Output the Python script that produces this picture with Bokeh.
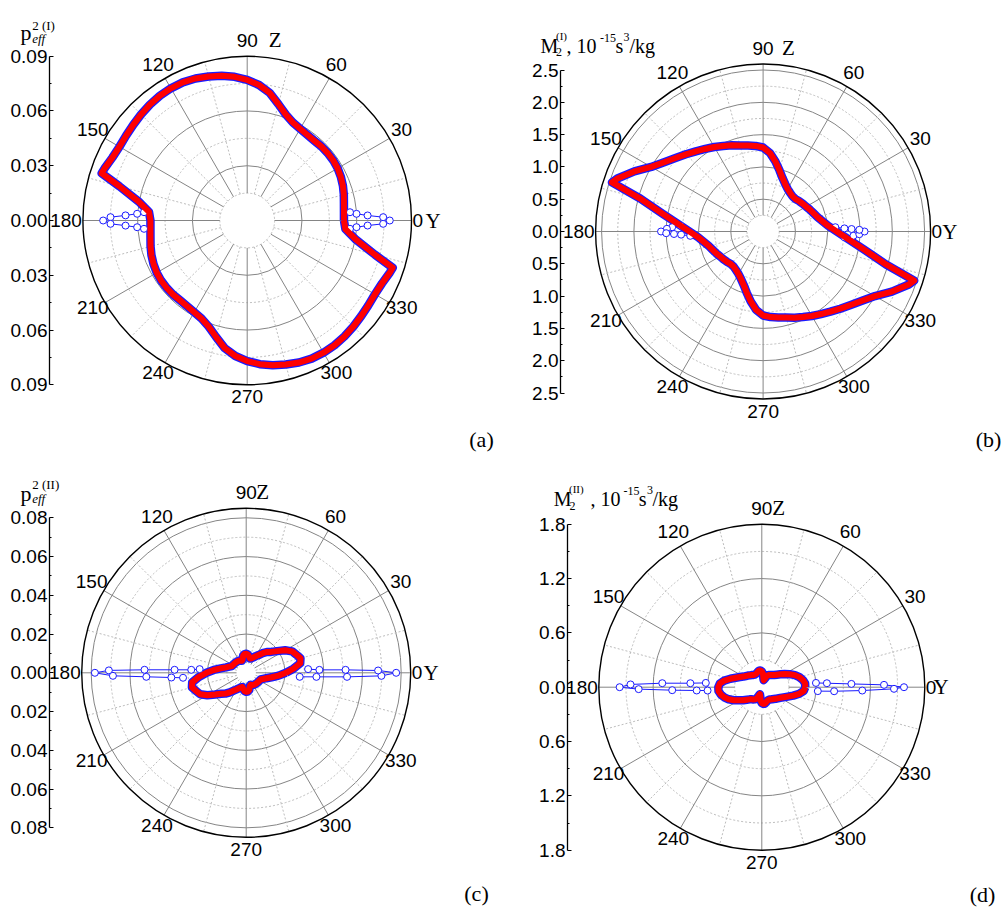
import numpy as np
from bokeh.plotting import figure
from bokeh.layouts import column, row
from bokeh.models import Range1d, LinearAxis, FixedTicker, CustomJSTickFormatter, Label
from bokeh.embed import file_html
from bokeh.resources import INLINE
from bokeh.core.properties import value

# ---------------- data ----------------
ANGLE_TICKS = [0, 30, 60, 90, 120, 150, 180, 210, 240, 270, 300, 330]
ANGLE_LABELS = ["0", "30", "60", "90", "120", "150", "180", "210", "240", "270", "300", "330"]
MINOR_SPOKES = [15, 45, 75, 105, 135, 165, 195, 225, 255, 285, 315, 345]

# (a) p_eff^2 (I)
theta_a = [0, 5, 10, 15, 20, 25, 30, 35, 40, 45, 50, 55, 60, 65, 70, 75, 80, 85, 90, 95, 100,
           105, 110, 115, 120, 125, 130, 135, 140, 145, 150, 155, 160, 162, 165, 170, 175]
red_a = [0.0530, 0.0532, 0.0538, 0.0548, 0.0558, 0.0566, 0.0572, 0.0575, 0.0575, 0.0574, 0.0571,
         0.0573, 0.0580, 0.0592, 0.0618, 0.0660, 0.0710, 0.0745, 0.0770, 0.0790, 0.0805, 0.0817,
         0.0828, 0.0835, 0.0836, 0.0834, 0.0829, 0.0822, 0.0815, 0.0810, 0.0808, 0.0815, 0.0832,
         0.0838, 0.0725, 0.0605, 0.0540]
spk0_t_a = [-4.6, -3.5, -2.4, -1.4, 0, 1.4, 2.4, 3.5, 4.6]
spk0_r_a = [0.0565, 0.0600, 0.0660, 0.0745, 0.0781, 0.0745, 0.0660, 0.0600, 0.0565]
spk180_t_a = [175.4, 176.5, 177.6, 178.6, 180, 181.4, 182.4, 183.5, 184.6]
spk180_r_a = [0.0567, 0.0604, 0.0667, 0.0749, 0.0789, 0.0749, 0.0667, 0.0604, 0.0567]
ticks_a = [-0.09, -0.06, -0.03, 0.0, 0.03, 0.06, 0.09]
minor_a = [-0.075, -0.045, -0.015, 0.015, 0.045, 0.075]

# (b) M2 (I)
theta_b = [0, 5, 10, 15, 20, 25, 30, 35, 40, 45, 50, 55, 60, 65, 70, 75, 80, 85, 90, 95, 100,
           105, 110, 115, 120, 125, 130, 135, 140, 145, 150, 155, 160, 162, 165, 170, 175]
red_b = [1.14, 1.01, 0.93, 0.87, 0.83, 0.80, 0.77, 0.75, 0.73, 0.71, 0.71, 0.73, 0.76, 0.81,
         0.88, 0.98, 1.10, 1.22, 1.30, 1.33, 1.35, 1.38, 1.42, 1.46, 1.51, 1.56, 1.62, 1.69,
         1.77, 1.87, 2.00, 2.20, 2.40, 2.46, 1.97, 1.58, 1.32]
spk0_t_b = [-4, -2.7, -1.6, 0, 1, 1.6, 2.2, 3.4]
spk0_r_b = [1.26, 1.40, 1.49, 1.57, 1.49, 1.37, 1.26, 1.12]
spk180_t_b = [176, 177.3, 178.4, 180, 181, 181.6, 182.2, 183.4]
spk180_r_b = [1.28, 1.41, 1.49, 1.58, 1.50, 1.38, 1.27, 1.13]
ticks_b = [-2.5, -2.0, -1.5, -1.0, -0.5, 0.0, 0.5, 1.0, 1.5, 2.0, 2.5]
minor_b = [-2.25, -1.75, -1.25, -0.75, -0.25, 0.25, 0.75, 1.25, 1.75, 2.25]

# (c) p_eff^2 (II)
theta_c = [0, 5, 10, 15, 20, 25, 30, 35, 40, 45, 50, 55, 60, 65, 70, 75, 80, 85, 90, 95, 100,
           105, 110, 115, 120, 125, 130, 135, 140, 145, 150, 155, 160, 165, 170, 175]
red_c = [0.0205, 0.0245, 0.0283, 0.0290, 0.0275, 0.0262, 0.0232, 0.0195, 0.0168, 0.0152,
         0.0132, 0.0112, 0.0099, 0.0088, 0.0080, 0.0076, 0.0085, 0.0095, 0.0098, 0.0097,
         0.0090, 0.0072, 0.0066, 0.0069, 0.0072, 0.0074, 0.0075, 0.0076, 0.0077, 0.0078,
         0.0080, 0.0082, 0.0093, 0.0108, 0.0133, 0.0168]
spk0_t_c = [-4.3, -3.3, -2.3, -1.3, 0, 1.0, 1.7, 2.3, 3.4]
spk0_r_c = [0.0277, 0.0363, 0.0521, 0.0698, 0.0774, 0.0681, 0.0513, 0.0378, 0.0320]
spk180_t_c = [175.5, 176.9, 177.6, 178.3, 179.0, 180, 181.3, 182.3, 183.6, 184.5]
spk180_r_c = [0.0241, 0.0284, 0.0370, 0.0525, 0.0709, 0.0781, 0.0688, 0.0516, 0.0387, 0.0327]
ticks_c = [-0.08, -0.06, -0.04, -0.02, 0.0, 0.02, 0.04, 0.06, 0.08]
minor_c = [-0.07, -0.05, -0.03, -0.01, 0.01, 0.03, 0.05, 0.07]

# (d) M2 (II)
theta_d = [0, 5, 10, 15, 20, 25, 30, 35, 40, 45, 50, 55, 60, 65, 70, 75, 80, 85, 90, 95, 100,
           105, 110, 115, 120, 125, 130, 135, 140, 145, 150, 155, 160, 165, 170, 175]
red_d = [0.48, 0.48, 0.46, 0.43, 0.39, 0.34, 0.29, 0.25, 0.215, 0.19, 0.175, 0.165, 0.155,
         0.14, 0.10, 0.08, 0.10, 0.15, 0.175, 0.185, 0.185, 0.175, 0.165, 0.16, 0.16, 0.165,
         0.175, 0.185, 0.20, 0.215, 0.235, 0.265, 0.305, 0.36, 0.42, 0.465]
spk0_t_d = [-4, -3.2, -1.9, -0.7, 0, 1.1, 2.1, 3.5, 4.5]
spk0_r_d = [0.62, 0.80, 1.11, 1.46, 1.57, 1.35, 0.99, 0.72, 0.60]
spk180_t_d = [175.6, 176.8, 177.7, 178.8, 180, 180.9, 181.9, 182.9, 183.5]
spk180_r_d = [0.62, 0.79, 1.10, 1.45, 1.57, 1.36, 0.99, 0.72, 0.60]
ticks_d = [-1.8, -1.2, -0.6, 0.0, 0.6, 1.2, 1.8]
minor_d = [-1.5, -0.9, -0.3, 0.3, 0.9, 1.5]

# ---------------- style ----------------
GRID_DARK = "#858585"
GRID_LIGHT = "#bdbdbd"
BLUE = "#1a1aff"
RED = "#ff0000"
NUM_FONT = "Liberation Sans"
SERIF = "Liberation Serif"
LAB_OFF = 14     # px from the outer circle to the centre of an angle label
LAB_UP = 2       # labels sit slightly higher


def to_xy(theta_deg, r):
    t = np.radians(np.asarray(theta_deg, dtype=float))
    rr = np.asarray(r, dtype=float)
    return rr * np.cos(t), rr * np.sin(t)


def closed_curve(theta_half, r_half):
    th = list(theta_half) + [t + 180 for t in theta_half] + [theta_half[0] + 360]
    rr = list(r_half) + list(r_half) + [r_half[0]]
    return to_xy(th, rr)


def make_panel(cfg):
    s = cfg["s"]
    x0, x1 = cfg["col"]
    y0, y1 = cfg["rows"]
    cx, cy = cfg["center"]

    def dx(X):
        return (X - cx) / s

    def dy(Y):
        return (cy - Y) / s

    p = figure(width=x1 - x0, height=y1 - y0,
               x_range=Range1d(dx(x0), dx(x1)), y_range=Range1d(dy(y1), dy(y0)),
               x_axis_type=None, y_axis_type=None,
               output_backend="svg", toolbar_location=None, min_border=0)
    p.outline_line_color = None
    p.background_fill_color = "white"
    p.border_fill_color = "white"

    R = cfg["outer"]
    rin = cfg["rin"]
    # polar grid
    p.circle(x=0, y=0, radius=cfg["rings_minor"], fill_color=None, line_color=GRID_LIGHT,
             line_width=1, line_dash="2 2")
    p.circle(x=0, y=0, radius=cfg["rings_major"], fill_color=None, line_color=GRID_DARK,
             line_width=1)
    sx0, sy0 = to_xy(MINOR_SPOKES, [rin] * len(MINOR_SPOKES))
    sx1, sy1 = to_xy(MINOR_SPOKES, [R] * len(MINOR_SPOKES))
    p.segment(x0=sx0, y0=sy0, x1=sx1, y1=sy1, line_color=GRID_LIGHT, line_width=1,
              line_dash="2 2")
    sx0, sy0 = to_xy(ANGLE_TICKS, [rin] * len(ANGLE_TICKS))
    sx1, sy1 = to_xy(ANGLE_TICKS, [R] * len(ANGLE_TICKS))
    p.segment(x0=sx0, y0=sy0, x1=sx1, y1=sy1, line_color=GRID_DARK, line_width=1)
    p.circle(x=0, y=0, radius=R, fill_color=None, line_color="black", line_width=1.4)

    # data: blue series (outline + spikes), red series on top
    cxs, cys = closed_curve(cfg["theta"], cfg["red"])
    p.line(cxs, cys, line_color=BLUE, line_width=8.5, line_join="round")
    for st, sr in cfg["spikes"]:
        kx, ky = to_xy(st, sr)
        p.line(kx, ky, line_color=BLUE, line_width=1)
        p.scatter(kx, ky, marker="circle", size=7, fill_color="white", line_color=BLUE,
                  line_width=1)
    p.line(cxs, cys, line_color=RED, line_width=6, line_join="round")

    # vertical radial-value axis, standing left of the polar disc
    ax = LinearAxis(ticker=FixedTicker(ticks=cfg["ticks"], minor_ticks=cfg["minor"]),
                    formatter=CustomJSTickFormatter(
                        code="return Math.abs(tick).toFixed(%d);" % cfg["dec"]),
                    bounds=(cfg["ticks"][0], cfg["ticks"][-1]),
                    fixed_location=dx(cfg["axis_x"]),
                    axis_line_color="black", axis_line_width=1.3,
                    major_tick_in=4, major_tick_out=0, minor_tick_in=2, minor_tick_out=0,
                    major_tick_line_color="black", minor_tick_line_color="black",
                    major_label_standoff=2,
                    major_label_text_font=NUM_FONT, major_label_text_font_size="19px",
                    major_label_text_color="black")
    p.add_layout(ax, "left")

    # angle labels
    idx = [i for i, a in enumerate(ANGLE_TICKS) if a not in (0, 180)]
    ang = [ANGLE_TICKS[i] for i in idx]
    lx, ly = to_xy(ang, [R] * len(ang))
    p.text(x=lx, y=ly, text=[ANGLE_LABELS[i] for i in idx],
           x_offset=list(LAB_OFF * np.cos(np.radians(ang))),
           y_offset=list(-LAB_OFF * np.sin(np.radians(ang)) - LAB_UP),
           text_align="center", text_baseline="middle",
           text_font=value(NUM_FONT), text_font_size="19px", text_color="black")
    p.text(x=[R], y=[0], text=[ANGLE_LABELS[0]], x_offset=1, text_align="left",
           text_baseline="middle", text_font=value(NUM_FONT), text_font_size="19px",
           text_color="black")
    p.text(x=[-R], y=[0], text=[ANGLE_LABELS[6]], x_offset=-1, text_align="right",
           text_baseline="middle", text_font=value(NUM_FONT), text_font_size="19px",
           text_color="black")
    # axis names
    p.text(x=[R], y=[0], text=["Y"], x_offset=cfg["ydx"], text_align="left",
           text_baseline="middle", text_font=value(SERIF), text_font_size="21px",
           text_color="black")
    p.text(x=[0], y=[R], text=["Z"], x_offset=cfg["zdx"], y_offset=-LAB_OFF - LAB_UP,
           text_align="left", text_baseline="middle", text_font=value(SERIF),
           text_font_size="21px", text_color="black")

    # quantity name above the axis (page-pixel positions)
    for (txt, X, Y, size, style) in cfg["labels"]:
        p.add_layout(Label(x=dx(X), y=dy(Y), text=txt, text_font=SERIF,
                           text_font_size=size, text_font_style=style, text_color="black",
                           text_align="left", text_baseline="alphabetic"))
    X, Y = cfg["letter_pos"]
    p.add_layout(Label(x=dx(X), y=dy(Y), text=cfg["letter"], text_font=SERIF,
                       text_font_size="22px", text_color="black", text_align="center",
                       text_baseline="middle"))
    return p


# page-pixel layout (page origin at the top-left corner)
cfg_a = dict(col=(0, 504), rows=(0, 460), axis_x=49,
             center=(246.7, 220.0), s=164.3 / 0.09,
             outer=0.09, rin=0.015, rings_major=[0.03, 0.06], rings_minor=[0.015, 0.045, 0.075],
             theta=theta_a, red=red_a,
             spikes=[(spk0_t_a, spk0_r_a), (spk180_t_a, spk180_r_a)],
             ticks=ticks_a, minor=minor_a, dec=2, ydx=14, zdx=21.6,
             labels=[("p", 20, 32.3, "22px", "normal"), ("eff", 31.7, 37.5, "13px", "italic"),
                     ("2 (I)", 31.7, 24.5, "13px", "normal")],
             letter="(a)", letter_pos=(481, 439))
cfg_b = dict(col=(504, 1004), rows=(0, 460), axis_x=560,
             center=(762.6, 231.0), s=64.6,
             outer=167.5 / 64.6, rin=0.25, rings_major=[0.5, 1.0, 1.5, 2.0, 2.5],
             rings_minor=[0.25, 0.75, 1.25, 1.75, 2.25],
             theta=theta_b, red=red_b,
             spikes=[(spk0_t_b, spk0_r_b), (spk180_t_b, spk180_r_b)],
             ticks=ticks_b, minor=minor_b, dec=1, ydx=11.6, zdx=19,
             labels=[("M", 540, 45, "20px", "normal"), ("2", 555.5, 51.5, "12px", "normal"),
                     ("(I)", 555.5, 35, "11px", "normal"), (", 10", 566, 45, "20px", "normal"),
                     ("-15", 599.5, 37, "12px", "normal"), ("s", 615, 45, "20px", "normal"),
                     ("3", 623, 36, "12px", "normal"), ("/kg", 629, 45, "20px", "normal")],
             letter="(b)", letter_pos=(988, 439))
cfg_c = dict(col=(0, 504), rows=(460, 907), axis_x=49,
             center=(245.7, 672.3), s=155 / 0.08,
             outer=164.5 / (155 / 0.08), rin=0.005, rings_major=[0.02, 0.04, 0.06, 0.08],
             rings_minor=[0.01, 0.03, 0.05, 0.07],
             theta=theta_c, red=red_c,
             spikes=[(spk0_t_c, spk0_r_c), (spk180_t_c, spk180_r_c)],
             ticks=ticks_c, minor=minor_c, dec=2, ydx=12.8, zdx=10,
             labels=[("p", 20, 493, "22px", "normal"), ("eff", 31.7, 498, "13px", "italic"),
                     ("2 (II)", 31.7, 483.5, "13px", "normal")],
             letter="(c)", letter_pos=(476, 893))
cfg_d = dict(col=(504, 1004), rows=(460, 907), axis_x=567,
             center=(761.3, 686.7), s=163 / 1.8,
             outer=1.8, rin=0.3, rings_major=[0.6, 1.2], rings_minor=[0.3, 0.9, 1.5],
             theta=theta_d, red=red_d,
             spikes=[(spk0_t_d, spk0_r_d), (spk180_t_d, spk180_r_d)],
             ticks=ticks_d, minor=minor_d, dec=1, ydx=8.7, zdx=10.4,
             labels=[("M", 553.3, 498.3, "20px", "normal"), ("2", 569, 505, "12px", "normal"),
                     ("(II)", 568.5, 488, "11px", "normal"), (", 10", 590, 498.3, "20px", "normal"),
                     ("-15", 623, 490, "12px", "normal"), ("s", 638.3, 498.3, "20px", "normal"),
                     ("3", 646.5, 489, "12px", "normal"), ("/kg", 652, 498.3, "20px", "normal")],
             letter="(d)", letter_pos=(982, 894))

layout = row(column(make_panel(cfg_a), make_panel(cfg_c)),
             column(make_panel(cfg_b), make_panel(cfg_d)))
open("out.html", "w").write(file_html(layout, INLINE))
